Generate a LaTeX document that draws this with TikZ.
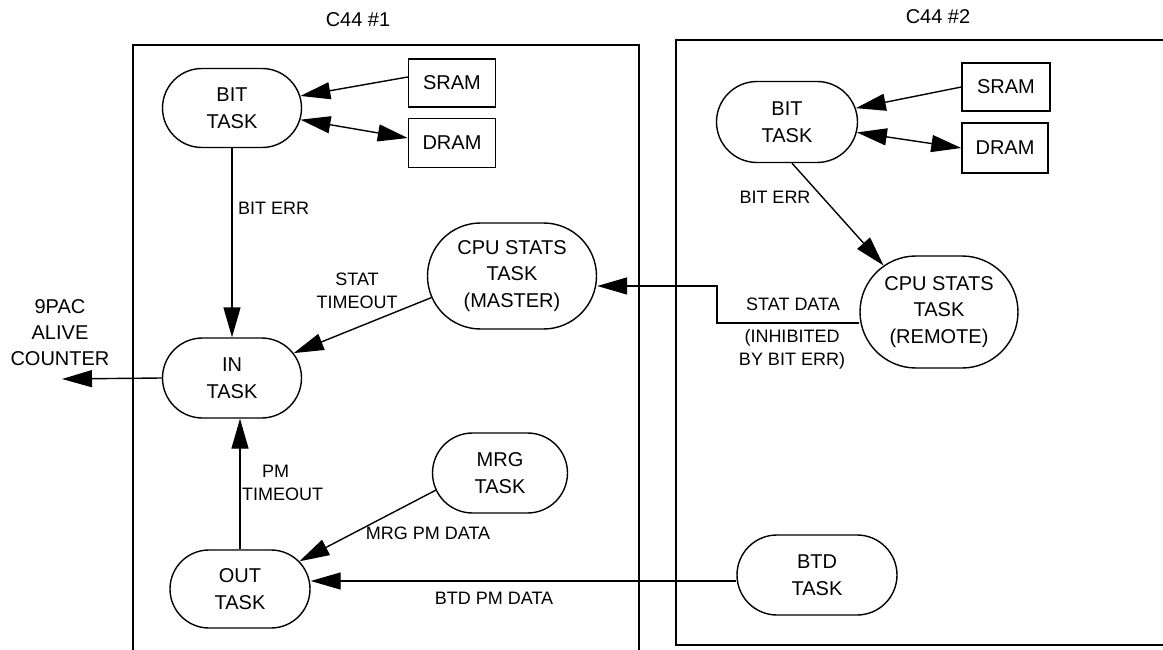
\documentclass[tikz,border=0pt]{standalone}
\usepackage{fontspec}
\setmainfont{Liberation Sans}
\usetikzlibrary{shapes.misc,arrows.meta,calc}
\begin{document}
\begin{tikzpicture}[x=1pt,y=-1pt,
  task/.style={rounded rectangle, draw, line width=1.4pt, align=center, inner sep=0pt, font=\fontsize{20}{26.5}\selectfont},
  mem/.style={rectangle, draw, line width=1.4pt, align=center, inner sep=0pt, font=\fontsize{20}{26.5}\selectfont},
  lbl/.style={align=center, inner sep=0pt, font=\fontsize{18}{23}\selectfont},
  ttl/.style={inner sep=0pt, font=\fontsize{20}{24}\selectfont},
  conn/.style={line width=1.4pt},
  arr/.style={conn, -{Triangle[length=30pt,width=17pt]}},
  darr/.style={conn, {Triangle[length=30pt,width=17pt]}-{Triangle[length=30pt,width=17pt]}},
  frm/.style={line width=1.4pt}
]
\useasboundingbox (0,0) rectangle (1163,650);

% frames
\draw[frm] (133,650) -- (133,45) -- (639,45) -- (639,650);
\draw[frm] (1163,40) -- (676,40) -- (676,645) -- (1163,645);
\node[ttl] (t1) at (358,20) {C44 \#1};
\node[ttl] (t2) at (938,17) {C44 \#2};

% left unit
\node[task, minimum width=139pt, minimum height=79pt] (bitA) at (232,108) {BIT\\TASK};
\node[mem, minimum width=87pt, minimum height=48pt] (sramA) at (452,83) {SRAM};
\node[mem, minimum width=87pt, minimum height=49pt] (dramA) at (452,143) {DRAM};
\node[task, minimum width=139pt, minimum height=80pt] (inT) at (232,378) {IN\\TASK};
\node[task, minimum width=169pt, minimum height=106pt] (master) at (512,276) {CPU STATS\\TASK\\(MASTER)};
\node[task, minimum width=135pt, minimum height=80pt] (mrg) at (500,473) {MRG\\TASK};
\node[task, minimum width=140pt, minimum height=78pt] (out) at (240,589) {OUT\\TASK};

% right unit
\node[task, minimum width=141pt, minimum height=81pt] (bitB) at (787,122) {BIT\\TASK};
\node[mem, minimum width=88pt, minimum height=48pt] (sramB) at (1006,87) {SRAM};
\node[mem, minimum width=86pt, minimum height=50pt] (dramB) at (1005,148) {DRAM};
\node[task, minimum width=158pt, minimum height=112pt] (remote) at (939,312) {CPU STATS\\TASK\\(REMOTE)};
\node[task, minimum width=160pt, minimum height=80pt] (btd) at (817,575) {BTD\\TASK};

% external
\node[lbl, font=\fontsize{20}{26}\selectfont] (alivetxt) at (60,333) {9PAC\\ALIVE\\COUNTER};
\coordinate (alive) at (62,379);
\coordinate (bend) at (717,286);

% connectors left
\draw[arr] ([yshift=6pt]sramA.west) -- (bitA);
\draw[darr] ([yshift=5pt]dramA.west) -- (bitA);
\draw[arr] (bitA.south) -- (inT.north);
\draw[arr] (master.195) -- (inT);
\draw[arr] (inT.west) -- (alive);
\draw[arr] (out.north) -- (out.north |- inT.south);
\draw[arr] (mrg.195) -- (out.25);
\draw[arr] ([yshift=-6pt]btd.west) -- ([yshift=-6pt]btd.west -| out.east);

% connectors right
\draw[arr] (sramB.west) -- (bitB);
\draw[darr] (dramB.west) -- (bitB);
\draw[arr] ([xshift=5pt]bitB.south) -- (remote.140);
\draw[arr] ([yshift=-11pt]remote.west) -| (bend) -- (bend -| master.east);

% labels
\node[lbl, anchor=west] (lbiterrA) at (238,208) {BIT ERR};
\node[lbl] (lstat) at (357,291) {STAT\\TIMEOUT};
\node[lbl, anchor=west, align=left] (lpm) at (242,483) {\hspace*{20pt}PM\\TIMEOUT};
\node[lbl] (lmrg) at (428,533) {MRG PM DATA};
\node[lbl] (lbtd) at (494,598) {BTD PM DATA};
\node[lbl] (lbiterrB) at (775,197) {BIT ERR};
\node[lbl] (lstatdata) at (793,304) {STAT DATA};
\node[lbl] (linhib) at (792,349) {(INHIBITED\\BY BIT ERR)};
\end{tikzpicture}
\end{document}
